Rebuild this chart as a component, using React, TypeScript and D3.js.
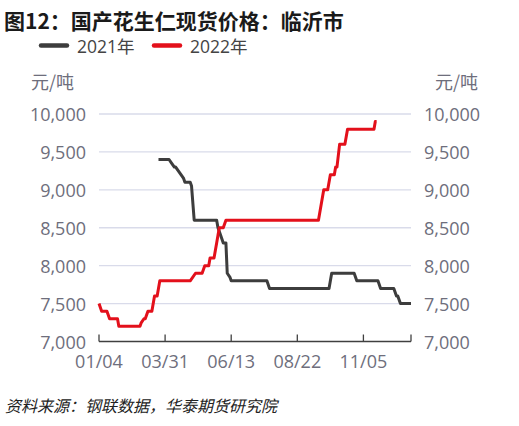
import React from "react";
import * as d3 from "d3";

const TITLE = "图12：国产花生仁现货价格：临沂市";
const SOURCE = "资料来源：钢联数据，华泰期货研究院";
const UNIT = "元/吨";
const SERIES_NAMES = ["2021年", "2022年"];
const SERIES_COLORS = ["#3d3d3d", "#e3101b"];

// category axis: trading-day index, labels every 50 days
const X_COUNT = 236;
const X_TICK_INDEX = [0, 50, 100, 150, 200];
const X_TICK_LABELS = ["01/04", "03/31", "06/13", "08/22", "11/05"];
const Y_TICKS = [7000, 7500, 8000, 8500, 9000, 9500, 10000];

// [dayIndex, price]
const S2021: [number, number][] = [
  [45, 9400], [53, 9400], [55, 9350], [57, 9300], [58, 9300], [60, 9250], [62, 9200],
  [64, 9150], [65, 9100], [69, 9100], [70, 9050], [72, 8600], [89, 8600], [90, 8500],
  [92, 8400], [94, 8300], [96, 8300], [97, 7900], [99, 7850], [100, 7800], [127, 7800],
  [129, 7700], [174, 7700], [176, 7900], [193, 7900], [195, 7800], [211, 7800],
  [213, 7700], [223, 7700], [225, 7600], [226, 7600], [228, 7500], [236, 7500],
];
const S2022: [number, number][] = [
  [0, 7500], [2, 7400], [6, 7400], [8, 7300], [14, 7300], [15, 7200],
  [31, 7200], [32, 7250], [34, 7300], [35, 7300], [37, 7400], [40, 7400], [42, 7600], [44, 7600],
  [46, 7800], [69, 7800], [73, 7900], [78, 7900], [80, 8000], [83, 8000], [84, 8100],
  [87, 8100], [88, 8200], [89, 8300], [90, 8400], [91, 8500], [94, 8500], [96, 8600],
  [166, 8600], [170, 9000], [173, 9000], [175, 9200], [178, 9200], [179, 9300],
  [180, 9300], [182, 9600], [186, 9600], [188, 9800], [208, 9800], [209, 9900], [210, 9900],
];

const FONT = "'Open Sans', 'Noto Sans CJK SC', sans-serif";
const CJK = "'Noto Sans CJK SC', sans-serif";

export default function App() {
  const W = 519, H = 426;
  const left = 99, right = 411, top = 114, bottom = 341.5;
  const x = d3.scaleLinear().domain([0, X_COUNT]).range([left, right]);
  const y = d3.scaleLinear().domain([7000, 10000]).range([bottom, top]);
  const line = d3.line<[number, number]>().x((d) => x(d[0])).y((d) => y(d[1]));
  const fmt = d3.format(",");
  const labelColor = "#6e6e7c";

  return (
    <svg width={W} height={H} style={{ position: "absolute", left: 0, top: 0, background: "#fff" }}>
      <text x={4} y={29} fontFamily={CJK} fontWeight={700} fontSize={21} fill="#1a1a1a">{TITLE}</text>
      {/* legend */}
      {SERIES_NAMES.map((n, i) => {
        const lx = i === 0 ? 39 : 152;
        return (
          <g key={n}>
            <line x1={lx + 2} x2={lx + 28} y1={45.5} y2={45.5} stroke={SERIES_COLORS[i]} strokeWidth={4.5} strokeLinecap="round" />
            <text x={lx + 38} y={46} dominantBaseline="central" fontFamily={FONT} fontSize={17.5} fill="#444">{n}</text>
          </g>
        );
      })}
      <text x={31} y={81} dominantBaseline="central" fontFamily={CJK} fontSize={18} fill={labelColor}>{UNIT}</text>
      <text x={435} y={81} dominantBaseline="central" fontFamily={CJK} fontSize={18} fill={labelColor}>{UNIT}</text>
      {/* grid */}
      {Y_TICKS.filter((t) => t > 7000).map((t) => (
        <line key={t} x1={left} x2={right} y1={y(t)} y2={y(t)} stroke="#d9dbea" strokeWidth={1.3} />
      ))}
      {Y_TICKS.map((t) => (
        <g key={"l" + t}>
          <text x={86} y={y(t)} textAnchor="end" dominantBaseline="central" fontFamily={FONT} fontSize={18} fill={labelColor}>{fmt(t)}</text>
          <text x={424} y={y(t)} textAnchor="start" dominantBaseline="central" fontFamily={FONT} fontSize={18} fill={labelColor}>{fmt(t)}</text>
        </g>
      ))}
      {/* x axis */}
      <line x1={left} x2={right} y1={bottom} y2={bottom} stroke="#404040" strokeWidth={1.3} />
      {[...X_TICK_INDEX, X_COUNT].map((t) => (
        <line key={"t" + t} x1={x(t)} x2={x(t)} y1={bottom} y2={bottom - 7} stroke="#404040" strokeWidth={1.3} />
      ))}
      {X_TICK_INDEX.map((t, i) => (
        <text key={"x" + t} x={x(t)} y={361} textAnchor="middle" dominantBaseline="central" fontFamily={FONT} fontSize={18} fill={labelColor}>{X_TICK_LABELS[i]}</text>
      ))}
      {/* series */}
      <path d={line(S2021) || ""} fill="none" stroke={SERIES_COLORS[0]} strokeWidth={3} strokeLinejoin="round" />
      <path d={line(S2022) || ""} fill="none" stroke={SERIES_COLORS[1]} strokeWidth={3} strokeLinejoin="round" />
      <text x={5} y={405} dominantBaseline="central" fontFamily={CJK} fontStyle="italic" fontSize={16} fill="#222">{SOURCE}</text>
    </svg>
  );
}
